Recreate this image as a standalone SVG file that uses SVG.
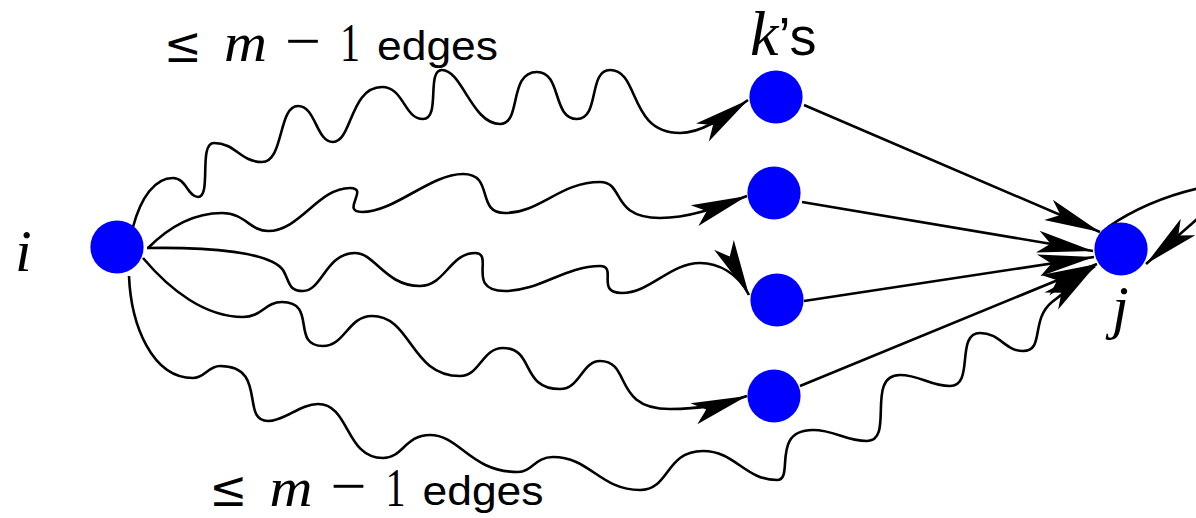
<svg xmlns="http://www.w3.org/2000/svg" width="1196" height="518" viewBox="0 0 1196 518">
<style>
.node{fill:#0000ff}
.edge{fill:none;stroke:#000;stroke-width:2.6;marker-end:url(#ah)}
.plain{fill:none;stroke:#000;stroke-width:2.6}
.math{font-family:"Liberation Serif","DejaVu Serif",serif;font-style:italic;fill:#000}
.rm{font-family:"Liberation Serif","DejaVu Serif",serif;fill:#000}
.le{font-family:"DejaVu Serif","Liberation Serif",serif;fill:#000}
.sans{font-family:"Liberation Sans",Arial,sans-serif;fill:#000}
</style>
<defs>
<marker id="ah" markerUnits="userSpaceOnUse" orient="auto" refX="0" refY="0" markerWidth="60" markerHeight="30" overflow="visible" style="overflow:visible">
<path d="M0,0 L-56,-11 L-43,0 L-56,11 Z" fill="#000"/>
</marker>
</defs>
<g id="connectors">
<path class="edge" d="M133,227 C141,197 155,178 173,178 C186,178 188,197 198,197 C212,197 198,143 214,143 C236,143 240,162 262,162 C284,162 278,106 298,106 C316,106 316,142 333,142 C352,142 350,87 382,87 C404,87 404,119 423,119 C441,119 426,70 442,70 C462,70 472,124 500,124 C522,124 508,72 537,72 C562,72 552,119 577,119 C600,119 588,70 610,70 C640,70 628,133 680,133 C700,133 720,120 748,100"/>
<path class="edge" d="M148,248 C168,228 192,213 222,213 C245,213 250,231 268,231 C300,231 318,188 350,188 C370,188 340,212 362,212 C395,212 430,174 463,174 C495,174 475,213 505,213 C540,213 560,182 600,182 C625,182 610,218 660,218 C690,218 715,208 747,196"/>
<path class="edge" d="M147,248 C210,247 270,252 283,270 C290,282 288,291 303,291 C322,291 326,253 355,253 C375,253 385,286 420,286 C445,286 450,253 475,253 C495,253 465,291 505,291 C540,291 565,266 600,266 C618,266 595,293 622,293 C650,293 670,263 700,263 C718,263 738,273 749,295"/>
<path class="edge" d="M143,258 C170,290 205,317 243,317 C262,317 265,302 282,302 C318,302 290,346 323,346 C345,346 348,316 372,316 C412,316 410,376 460,376 C480,376 482,348 503,348 C535,348 520,389 560,389 C580,389 582,361 600,361 C632,361 612,409 670,409 C700,409 720,405 747,396"/>
<path class="edge" d="M129,276 C131,325 152,378 193,378 C205,378 208,366 220,366 C268,366 240,421 268,421 C285,421 300,404 318,404 C350,404 345,458 383,458 C403,458 405,435 430,435 C460,435 470,472 518,472 C532,472 535,457 553,457 C590,457 600,490 640,490 C670,490 665,451 703,451 C735,451 745,480 777,480 C795,480 770,430 813,430 C835,430 845,441 867,441 C895,441 865,375 900,375 C920,375 930,386 950,386 C975,386 955,333 980,333 C1000,333 1005,351 1023,351 C1045,351 1030,320 1052,302 C1068,290 1080,278 1095,266"/>
<line class="edge" x1="804" y1="105" x2="1100" y2="232"/>
<line class="edge" x1="802" y1="202" x2="1093" y2="251"/>
<line class="edge" x1="804" y1="301" x2="1094" y2="257"/>
<line class="edge" x1="800" y1="386" x2="1097" y2="264"/>
<path class="plain" d="M1108,227 C1130,212 1160,197 1200,188"/>
<path class="edge" d="M1205,212 L1146,264"/>
</g>
<g id="node-i"><circle class="node" cx="117" cy="247" r="26.6"/><text class="math" x="15" y="271" font-size="60">i</text></g>
<g id="node-k1"><circle class="node" cx="776" cy="97" r="26.6"/></g>
<g id="node-k2"><circle class="node" cx="774" cy="193" r="26.6"/></g>
<g id="node-k3"><circle class="node" cx="777" cy="300" r="26.6"/></g>
<g id="node-k4"><circle class="node" cx="774" cy="396" r="26.6"/></g>
<g id="node-j"><circle class="node" cx="1121" cy="249" r="26.6"/><text class="math" x="1112" y="327" font-size="60">j</text></g>
<g id="label-ks"><text x="750" y="55"><tspan class="math" font-size="64">k</tspan><tspan class="sans" font-size="54">’s</tspan></text></g>
<g id="label-top">
<text class="le" x="164" y="62" font-size="50" textLength="38" lengthAdjust="spacingAndGlyphs">≤</text>
<text class="math" x="224" y="61" font-size="54" textLength="43" lengthAdjust="spacingAndGlyphs">m</text>
<text class="rm" x="285" y="61" font-size="60" textLength="36" lengthAdjust="spacingAndGlyphs">−</text>
<text class="rm" x="340" y="61" font-size="54" textLength="20" lengthAdjust="spacingAndGlyphs">1</text>
<text class="sans" x="377" y="60" font-size="40" textLength="121" lengthAdjust="spacingAndGlyphs">edges</text>
</g>
<g id="label-bottom" transform="translate(45.5,445)">
<text class="le" x="164" y="61" font-size="50" textLength="38" lengthAdjust="spacingAndGlyphs">≤</text>
<text class="math" x="224" y="61" font-size="54" textLength="43" lengthAdjust="spacingAndGlyphs">m</text>
<text class="rm" x="285" y="61" font-size="60" textLength="36" lengthAdjust="spacingAndGlyphs">−</text>
<text class="rm" x="340" y="61" font-size="54" textLength="20" lengthAdjust="spacingAndGlyphs">1</text>
<text class="sans" x="377" y="60" font-size="40" textLength="121" lengthAdjust="spacingAndGlyphs">edges</text>
</g>
</svg>
